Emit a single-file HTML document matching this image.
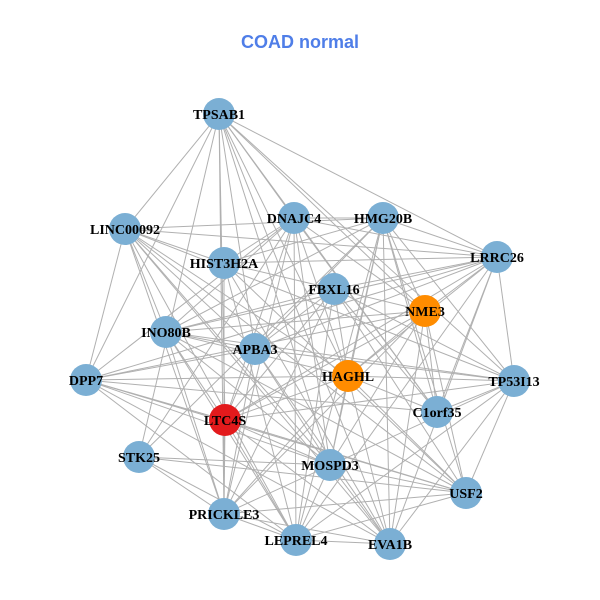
<!DOCTYPE html>
<html><head><meta charset="utf-8"><style>
html,body{margin:0;padding:0;background:#fff}
svg{display:block}
</style></head><body>
<svg id="s" width="600" height="600" viewBox="0 0 600 600" xmlns="http://www.w3.org/2000/svg">
<rect width="600" height="600" fill="#fff"/>
<text x="300" y="48" text-anchor="middle" font-family="Liberation Sans, sans-serif" font-weight="bold" font-size="18" fill="#4f7ee8">COAD normal</text>
<g id="e" stroke="#b0b0b0" stroke-width="1"></g>
<g id="n"></g>
</svg>
<script>
var N=[
["TPSAB1",219,114,"#7bafd4"],["DNAJC4",294,218,"#7bafd4"],["HMG20B",383,218,"#7bafd4"],
["LINC00092",125,229,"#7bafd4"],["HIST3H2A",224,263,"#7bafd4"],["LRRC26",497,257,"#7bafd4"],
["FBXL16",334,289,"#7bafd4"],["NME3",425,311,"#ff8c00"],["INO80B",166,332,"#7bafd4"],
["APBA3",255,349,"#7bafd4"],["DPP7",86,380,"#7bafd4"],["HAGHL",348,376,"#ff8c00"],
["TP53I13",514,381,"#7bafd4"],["C1orf35",437,412,"#7bafd4"],["LTC4S",225,420,"#e31a1c"],
["STK25",139,457,"#7bafd4"],["MOSPD3",330,465,"#7bafd4"],["USF2",466,493,"#7bafd4"],
["PRICKLE3",224,514,"#7bafd4"],["LEPREL4",296,540,"#7bafd4"],["EVA1B",390,544,"#7bafd4"]];
var ns="http://www.w3.org/2000/svg",e=document.getElementById("e"),g=document.getElementById("n");
for(var i=0;i<N.length;i++)for(var j=i+1;j<N.length;j++){
 var h=(i*37+j*53+i*j*11)%100; if(h<30)continue;
 var l=document.createElementNS(ns,"line");
 l.setAttribute("x1",N[i][1]);l.setAttribute("y1",N[i][2]);l.setAttribute("x2",N[j][1]);l.setAttribute("y2",N[j][2]);
 e.appendChild(l);}
N.forEach(function(d){
 var c=document.createElementNS(ns,"circle");c.setAttribute("cx",d[1]);c.setAttribute("cy",d[2]);c.setAttribute("r",16);c.setAttribute("fill",d[3]);g.appendChild(c);
});
N.forEach(function(d){
 var t=document.createElementNS(ns,"text");t.setAttribute("x",d[1]);t.setAttribute("y",d[2]+5);
 t.setAttribute("text-anchor","middle");t.setAttribute("font-family","Liberation Serif, serif");t.setAttribute("font-weight","bold");t.setAttribute("font-size","14");t.setAttribute("fill","#000");
 t.textContent=d[0];g.appendChild(t);
});
</script>
</body></html>
